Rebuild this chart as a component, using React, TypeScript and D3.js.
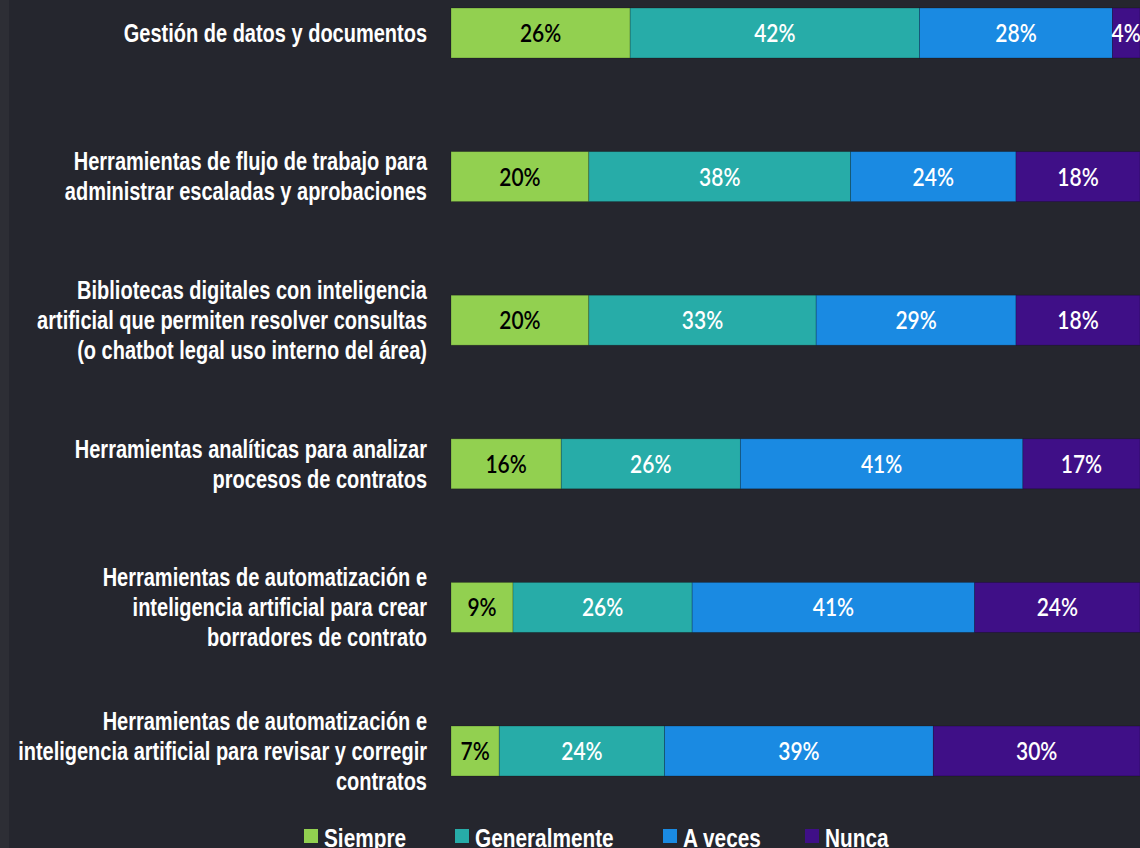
import React from "react";
import * as d3 from "d3";

const categories: string[][] = [
  ["Gestión de datos y documentos"],
  ["Herramientas de flujo de trabajo para", "administrar escaladas y aprobaciones"],
  ["Bibliotecas digitales con inteligencia", "artificial que permiten resolver consultas", "(o chatbot legal uso interno del área)"],
  ["Herramientas analíticas para analizar", "procesos de contratos"],
  ["Herramientas de automatización e", "inteligencia artificial para crear", "borradores de contrato"],
  ["Herramientas de automatización e", "inteligencia artificial para revisar y corregir", "contratos"],
];
const seriesNames = ["Siempre", "Generalmente", "A veces", "Nunca"];
const siempre = [26, 20, 20, 16, 9, 7];
const generalmente = [42, 38, 33, 26, 26, 24];
const aVeces = [28, 24, 29, 41, 41, 39];
const nunca = [4, 18, 18, 17, 24, 30];
const colors = ["#92d050", "#27aca8", "#1a8ae2", "#3f0f87"];
const textColors = ["#000000", "#ffffff", "#ffffff", "#ffffff"];

const W = 1140;
const H = 848;
const FONT = "'Liberation Sans', Arial, sans-serif";
const VFONT = "Lato, 'Liberation Sans', sans-serif";
const SX = 0.8;

export default function App() {
  const rows = categories.map((c, i) => ({
    key: String(i),
    lines: c,
    vals: [siempre[i], generalmente[i], aVeces[i], nunca[i]],
  }));
  const stack = d3.stack<any>().keys([0, 1, 2, 3].map(String)).value((d: any, k: string) => d.vals[+k]);
  const series = stack(rows);

  const x = d3.scaleLinear().domain([0, 100]).range([451, 1140]);
  const y = d3
    .scaleBand<string>()
    .domain(rows.map((r) => r.key))
    .range([-38.8, 822.8])
    .paddingInner(0.652)
    .paddingOuter(0.326);
  const bw = y.bandwidth();

  const legendX = [304, 455, 663, 805];

  return (
    <svg width={W} height={H} style={{ position: "absolute", left: 0, top: 0, display: "block" }}>
      <rect x={0} y={0} width={W} height={H} fill="#25262e" />
      <rect x={0} y={0} width={9} height={H} fill="#2d2e35" />
      {rows.map((r) => {
        const cy = (y(r.key) as number) + bw / 2;
        const n = r.lines.length;
        const lh = 30;
        return (
          <g key={r.key} transform={`translate(427,${cy}) scale(${SX},1)`}>
            <text textAnchor="end" fill="#ffffff" fontFamily={FONT} fontSize={25} fontWeight={700}>
              {r.lines.map((l, j) => (
                <tspan key={j} x={0} y={(j - (n - 1) / 2) * lh} dy="0.35em">
                  {l}
                </tspan>
              ))}
            </text>
          </g>
        );
      })}
      {series.map((s, si) => (
        <g key={si}>
          {s.map((d: any, di: number) => {
            const x0 = x(d[0]);
            const x1 = x(d[1]);
            const yy = y(rows[di].key) as number;
            return (
              <g key={di}>
                <rect x={x0} y={yy} width={x1 - x0} height={bw} fill={colors[si]} stroke="rgba(0,0,0,0.25)" strokeWidth={0.8} />
                <g transform={`translate(${(x0 + x1) / 2},${yy + bw / 2}) scale(0.84,1)`}>
                  <text dy="0.36em" textAnchor="middle" fill={textColors[si]} fontFamily={VFONT} fontSize={25} fontWeight={600}>
                    {rows[di].vals[si]}%
                  </text>
                </g>
              </g>
            );
          })}
        </g>
      ))}
      {seriesNames.map((name, i) => (
        <g key={name}>
          <rect x={legendX[i]} y={829} width={14} height={14} fill={colors[i]} />
          <g transform={`translate(${legendX[i] + 20},847) scale(${SX},1)`}>
            <text x={0} y={0} fill="#ffffff" fontFamily={FONT} fontSize={26} fontWeight={700}>
              {name}
            </text>
          </g>
        </g>
      ))}
    </svg>
  );
}
